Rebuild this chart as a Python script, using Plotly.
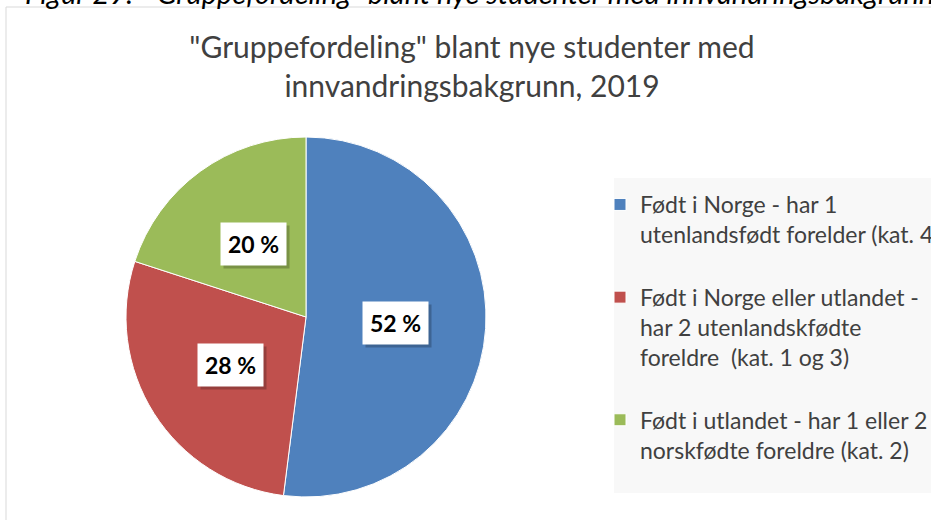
import math
import plotly.graph_objects as go

labels = [
    "Født i Norge - har 1<br>utenlandsfødt forelder (kat. 4)<br> ",
    "Født i Norge eller utlandet -<br>har 2 utenlandskfødte<br>foreldre  (kat. 1 og 3)<br> ",
    "Født i utlandet - har 1 eller 2<br>norskfødte foreldre (kat. 2)",
]
values = [52, 28, 20]
colors = ["#4F81BD", "#C0504D", "#9BBB59"]
pct_labels = ["52 %", "28 %", "20 %"]

W, H = 931, 520
FONT = "Lato, Open Sans, sans-serif"

# pie geometry in pixels
cx, cy, r = 306, 317, 180

fig = go.Figure()
fig.add_trace(go.Pie(
    labels=labels,
    values=values,
    sort=False,
    direction="clockwise",
    rotation=0,
    marker=dict(colors=colors, line=dict(color="white", width=1)),
    textinfo="none",
    hoverinfo="label+percent",
    domain=dict(x=[(cx - r) / W, (cx + r) / W], y=[1 - (cy + r) / H, 1 - (cy - r) / H]),
))

annotations = []
total = sum(values)
cum = 0
for v, t in zip(values, pct_labels):
    m = (cum + v / 2) / total
    cum += v
    th = 2 * math.pi * m
    px = cx + 0.5 * r * math.sin(th)
    py = cy - 0.5 * r * math.cos(th)
    ax, ay = px / W, 1 - py / H
    # shadow
    annotations.append(dict(x=ax, y=ay, xref="paper", yref="paper", xanchor="center", yanchor="middle",
                            text="<b>" + t + "</b>",
                            showarrow=False, font=dict(family=FONT, size=23, color="rgba(0,0,0,0)"),
                            bgcolor="rgba(0,0,0,0.22)", borderpad=7, xshift=3, yshift=-3))
    annotations.append(dict(x=ax, y=ay, xref="paper", yref="paper", xanchor="center", yanchor="middle",
                            text="<b>" + t + "</b>",
                            showarrow=False, font=dict(family=FONT, size=23, color="black"),
                            bgcolor="white", borderpad=7))

# cropped caption at the top
annotations.append(dict(x=936 / W, y=1 + 8 / H, xref="paper", yref="paper", xanchor="right", yanchor="middle",
                        text="<i>Figur 29:  \"Gruppefordeling\" blant nye studenter med innvandringsbakgrunn</i>",
                        showarrow=False, font=dict(family=FONT, size=29, color="black")))

shapes = [
    dict(type="rect", xref="paper", yref="paper", x0=6 / W, x1=1.05, y0=-0.05, y1=1 - 7 / H,
         line=dict(color="#d9d9d9", width=1), fillcolor="rgba(0,0,0,0)", layer="below"),
    dict(type="rect", xref="paper", yref="paper", x0=614 / W, x1=1.05, y0=1 - 493 / H, y1=1 - 178 / H,
         line=dict(width=0), fillcolor="#f8f8f8", layer="below"),
]

fig.update_layout(
    width=W, height=H,
    margin=dict(l=0, r=0, t=0, b=0, autoexpand=False),
    paper_bgcolor="white",
    plot_bgcolor="white",
    title=dict(text="\"Gruppefordeling\" blant nye studenter med<br>innvandringsbakgrunn, 2019",
               x=472 / W, xanchor="center", y=1 - 58 / H, yanchor="middle",
               font=dict(family=FONT, size=30, color="#404040")),
    legend=dict(x=600 / W, xanchor="left", y=1 - 183 / H, yanchor="top", valign="top",
                xref="container", yref="container", maxheight=1,
                bgcolor="rgba(0,0,0,0)", font=dict(family=FONT, size=23, color="#404040"),
                traceorder="normal"),
    annotations=annotations,
    shapes=shapes,
    showlegend=True,
)

fig.write_html("out.html", config={"displayModeBar": False},
               post_script="document.body.style.margin='0';")
